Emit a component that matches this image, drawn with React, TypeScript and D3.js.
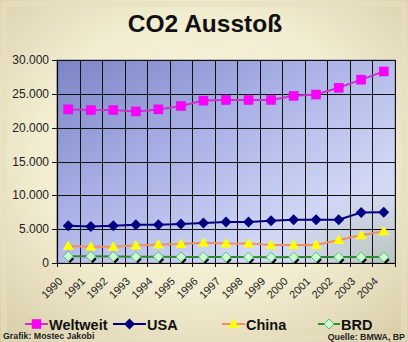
import React from "react";
import * as d3 from "d3";

const years = ["1990","1991","1992","1993","1994","1995","1996","1997","1998","1999","2000","2001","2002","2003","2004"];
const weltweit = [22700, 22600, 22600, 22400, 22700, 23200, 24000, 24100, 24100, 24100, 24700, 24900, 25900, 27100, 28300];
const usa = [5500, 5400, 5500, 5650, 5650, 5750, 5900, 6050, 6050, 6250, 6400, 6400, 6400, 7450, 7500];
const china = [2500, 2400, 2400, 2600, 2750, 2800, 3000, 2900, 2900, 2650, 2650, 2650, 3400, 4100, 4700];
const brd = [1000, 980, 960, 940, 920, 900, 900, 890, 880, 860, 870, 880, 870, 880, 870];
const yTicks = [0, 5000, 10000, 15000, 20000, 25000, 30000];
const legendLabels = ["Weltweit", "USA", "China", "BRD"];

const W = 408, H = 342;
const L = 57, R = 395, T = 60, B = 263;

const de = d3.formatLocale({ decimal: ",", thousands: ".", grouping: [3], currency: ["", " €"] });
const fmt = de.format(",");

function Marker({ kind, x, y }: { kind: string; x: number; y: number }) {
  if (kind === "Weltweit") return <rect x={x - 4.5} y={y - 4.5} width={9} height={9} fill="#ff00ff" stroke="#e000e0" strokeWidth={0.5} />;
  if (kind === "USA") return <path d={`M${x},${y - 5.5}L${x + 5.5},${y}L${x},${y + 5.5}L${x - 5.5},${y}Z`} fill="#000080" />;
  if (kind === "China") return <path d={`M${x},${y - 5.5}L${x + 5.5},${y + 4}L${x - 5.5},${y + 4}Z`} fill="#ffff00" />;
  return (
    <g>
      <path d={`M${x},${y - 5}L${x + 5},${y}L${x},${y + 5}L${x - 5},${y}Z`} fill="#ccffcc" stroke="#55bb88" strokeWidth={1} />
    </g>
  );
}

export default function App() {
  const x = d3.scaleBand<string>().domain(years).range([L, R]).padding(0);
  const y = d3.scaleLinear().domain([0, 30000]).range([B, T]);
  const cx = (d: string) => (x(d) as number) + x.bandwidth() / 2;

  const series = [
    { name: "Weltweit", data: weltweit, line: "#cc33cc" },
    { name: "USA", data: usa, line: "#000080" },
    { name: "China", data: china, line: "#f09060" },
    { name: "BRD", data: brd, line: "#2e8b2e" },
  ];
  const lineGen = d3.line<number>().x((_, i) => cx(years[i])).y((v) => y(v));

  const bounds = years.map((d) => x(d) as number).concat([R]);

  const legendPos = [
    { lx: 25, lw: 23 },
    { lx: 113, lw: 33 },
    { lx: 222, lw: 23 },
    { lx: 318, lw: 22 },
  ];

  return (
    <svg width={W} height={H} style={{ position: "absolute", left: 0, top: 0 }} fontFamily="Arial, 'Liberation Sans', sans-serif">
      <defs>
        <radialGradient id="bg" cx="50%" cy="45%" r="75%">
          <stop offset="0%" stopColor="#faf6e2" />
          <stop offset="55%" stopColor="#f2ecd0" />
          <stop offset="100%" stopColor="#d6cba6" />
        </radialGradient>
        <linearGradient id="plotbg" x1="0" y1="0" x2="1" y2="1">
          <stop offset="0%" stopColor="#7c84c6" />
          <stop offset="40%" stopColor="#aab2e6" />
          <stop offset="75%" stopColor="#d0d6f4" />
          <stop offset="100%" stopColor="#dfe3f2" />
        </linearGradient>
        <radialGradient id="plotshade" cx="100%" cy="100%" r="35%">
          <stop offset="0%" stopColor="#a8b8a8" stopOpacity={0.7} />
          <stop offset="100%" stopColor="#a8b8a8" stopOpacity={0} />
        </radialGradient>
      </defs>
      <rect x={0} y={0} width={W} height={H} fill="url(#bg)" />
      <rect x={4} y={4} width={W - 8} height={H - 8} fill="none" stroke="#e8e0c0" strokeWidth={6} opacity={0.6} />

      <text x={205} y={32} textAnchor="middle" fontSize={24.5} fontWeight="bold" fill="#111">CO2 Ausstoß</text>

      <rect x={L} y={T} width={R - L} height={B - T} fill="url(#plotbg)" />
      <rect x={L} y={T} width={R - L} height={B - T} fill="url(#plotshade)" />
      <rect x={L} y={T} width={R - L} height={B - T} fill="none" stroke="#8a8a9a" strokeWidth={1} />

      {yTicks.map((t) => (
        <g key={t}>
          <line x1={L - 5} x2={R} y1={Math.round(y(t)) + 0.5} y2={Math.round(y(t)) + 0.5} stroke="#111" strokeWidth={1} />
          <text x={49} y={y(t) + 4} textAnchor="end" fontSize={12} fill="#222">{fmt(t)}</text>
        </g>
      ))}
      {bounds.map((bx, i) => (
        <line key={i} x1={Math.round(bx) + 0.5} x2={Math.round(bx) + 0.5} y1={T} y2={B + 4} stroke="#111" strokeWidth={1} />
      ))}
      <line x1={L + 0.5} x2={L + 0.5} y1={T} y2={B} stroke="#000" strokeWidth={1.2} />
      <line x1={L} x2={R} y1={B + 0.5} y2={B + 0.5} stroke="#000" strokeWidth={1.2} />

      {years.map((d) => (
        <text key={d} transform={`translate(${cx(d) - 5},${B + 19}) rotate(-45)`} textAnchor="end" fontSize={11} fill="#222">{d}</text>
      ))}

      {series.map((s) => (
        <g key={s.name}>
          <path d={lineGen(s.data) || ""} fill="none" stroke={s.line} strokeWidth={2} />
          {s.name === "BRD" && s.data.map((v, i) => (
            <line key={"sh" + i} x1={cx(years[i]) + 1} y1={y(v) + 6} x2={cx(years[i]) + 5} y2={y(v) + 2} stroke="#000" strokeWidth={2.2} />
          ))}
          {s.data.map((v, i) => (
            <Marker key={i} kind={s.name} x={cx(years[i])} y={y(v)} />
          ))}
        </g>
      ))}

      {series.map((s, i) => (
        <g key={"lg" + s.name}>
          <line x1={legendPos[i].lx} x2={legendPos[i].lx + legendPos[i].lw} y1={324} y2={324} stroke={s.line} strokeWidth={2} />
          <Marker kind={s.name} x={legendPos[i].lx + legendPos[i].lw / 2} y={324} />
          <text x={legendPos[i].lx + legendPos[i].lw + 1} y={329.5} fontSize={14.5} fontWeight="bold" fill="#111">{legendLabels[i]}</text>
        </g>
      ))}

      <text x={3} y={339} fontSize={8.8} fontWeight="bold" fill="#222">Grafik: Mostec Jakobi</text>
      <text x={405} y={340} textAnchor="end" fontSize={8.8} fontWeight="bold" fill="#222">Quelle: BMWA, BP</text>
    </svg>
  );
}
